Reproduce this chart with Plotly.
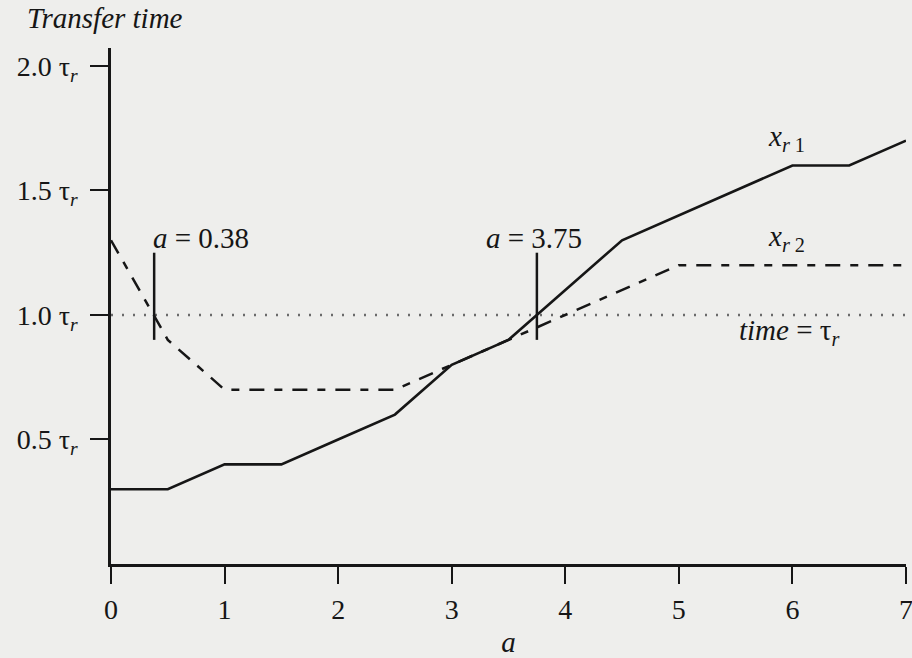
import plotly.graph_objects as go

# Transfer time curves (in units of tau_r) versus parameter a
a_r1 = [0, 0.5, 1, 1.5, 2, 2.5, 3, 3.5, 4.5, 6, 6.5, 7]
t_r1 = [0.3, 0.3, 0.4, 0.4, 0.5, 0.6, 0.8, 0.9, 1.3, 1.6, 1.6, 1.7]

a_r2 = [0, 0.5, 1, 2.5, 3, 3.5, 5, 7]
t_r2 = [1.3, 0.9, 0.7, 0.7, 0.8, 0.9, 1.2, 1.2]

# reference level time = tau_r
ref_a = [0, 7]
ref_t = [1.0, 1.0]

# crossing markers
cross_a = [0.38, 3.75]
cross_labels = ["<i>a</i> = 0.38", "<i>a</i> = 3.75"]
cross_span = [0.9, 1.25]

x_ticks = [0, 1, 2, 3, 4, 5, 6, 7]
y_ticks = [0.5, 1.0, 1.5, 2.0]
y_ticktext = ["0.5 τ<sub><i>r</i></sub>", "1.0 τ<sub><i>r</i></sub>",
              "1.5 τ<sub><i>r</i></sub>", "2.0 τ<sub><i>r</i></sub>"]

FONT = "Liberation Serif"
INK = "#161616"
BG = "#eeeeec"
TXT = 29
TICK = 28

fig = go.Figure()

fig.add_trace(go.Scatter(x=ref_a, y=ref_t, mode="lines",
                         line=dict(color="#6a6a6a", width=2.5, dash="2px,9px"),
                         hoverinfo="skip"))
fig.add_trace(go.Scatter(x=a_r2, y=t_r2, mode="lines",
                         line=dict(color=INK, width=2.5, dash="15px,10px,8px,10px"),
                         hoverinfo="skip"))
fig.add_trace(go.Scatter(x=a_r1, y=t_r1, mode="lines",
                         line=dict(color=INK, width=2.6),
                         hoverinfo="skip"))
for xa in cross_a:
    fig.add_trace(go.Scatter(x=[xa, xa], y=cross_span, mode="lines",
                             line=dict(color=INK, width=2.5),
                             hoverinfo="skip"))

annos = [
    dict(x=cross_a[0], y=1.31, text=cross_labels[0], xanchor="left", xshift=-3),
    dict(x=cross_a[1], y=1.31, text=cross_labels[1], xanchor="center", xshift=-3),
    dict(x=5.95, y=1.71, text="<i>x</i><sub><i>r</i> 1</sub>", xanchor="center"),
    dict(x=5.95, y=1.31, text="<i>x</i><sub><i>r</i> 2</sub>", xanchor="center"),
    dict(x=5.97, y=0.93, text="<i>time</i> = τ<sub><i>r</i></sub>", xanchor="center"),
]
for a in annos:
    fig.add_annotation(xref="x", yref="y", yanchor="middle", showarrow=False,
                       font=dict(family=FONT, size=TXT, color=INK), **a)

fig.add_annotation(xref="paper", yref="paper", x=-0.108, y=1.058,
                   xanchor="left", yanchor="middle", showarrow=False,
                   text="<i>Transfer time</i>",
                   font=dict(family=FONT, size=TXT, color=INK))

fig.update_layout(
    width=912, height=658,
    margin=dict(l=111, r=6, t=48, b=94),
    paper_bgcolor=BG, plot_bgcolor=BG,
    showlegend=False,
    font=dict(family=FONT, size=TICK, color=INK),
    xaxis=dict(range=[0, 7], tickvals=x_ticks, ticks="outside", ticklen=17,
               tickwidth=2, tickcolor=INK, showline=True, linewidth=2.5,
               linecolor=INK, showgrid=False, zeroline=False, automargin=False,
               ticklabelstandoff=2, ticklabeloverflow="allow",
               tickfont=dict(family=FONT, size=TICK, color=INK),
               title=dict(text="<i>a</i>", standoff=10,
                          font=dict(family=FONT, size=TXT, color=INK))),
    yaxis=dict(range=[0, 2.072], tickvals=y_ticks, ticktext=y_ticktext,
               ticks="outside", ticklen=18, tickwidth=2, tickcolor=INK,
               showline=True, linewidth=2.5, linecolor=INK, showgrid=False,
               zeroline=False, automargin=False, ticklabelstandoff=7,
               ticklabeloverflow="allow",
               tickfont=dict(family=FONT, size=TICK, color=INK)),
)

fig.write_html("out.html")
